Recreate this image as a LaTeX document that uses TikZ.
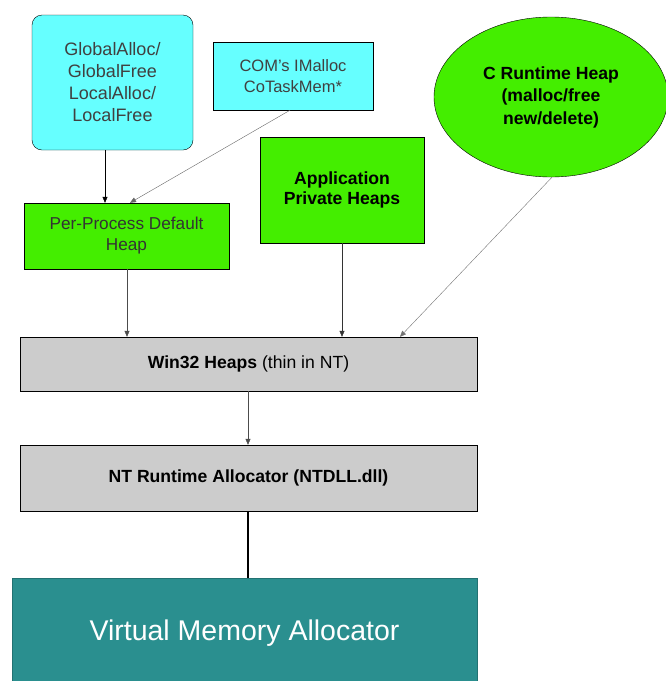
\documentclass[tikz,border=0pt]{standalone}
\usepackage{fontspec}
\setmainfont{Liberation Sans}
\usetikzlibrary{arrows.meta,shapes.geometric}
\definecolor{apicyan}{HTML}{66FFFF}
\definecolor{heapgreen}{HTML}{44EE00}
\definecolor{layergray}{HTML}{CCCCCC}
\definecolor{vmteal}{HTML}{2A8F8F}
\begin{document}
\begin{tikzpicture}[
        x = 1pt, y = -1pt,
        api/.style = {draw, fill=apicyan, text=black!75, align=center, inner sep=0pt},
        heap/.style = {draw, fill=heapgreen, align=center, inner sep=0pt},
        layer/.style = {draw, fill=layergray, align=center, inner sep=0pt, font=\fontsize{17.6}{20}\selectfont,
          minimum width=457pt},
        flow/.style = {draw, -{Triangle[width=5pt,length=6pt]}},
      ]
        \useasboundingbox (0,0) rectangle (665,681);
        \node[api, rounded corners=10pt, minimum width=161pt, minimum height=135pt,
          font=\fontsize{18}{22}\selectfont] (global) at (112.5,82.5)
          {GlobalAlloc/\\GlobalFree\\LocalAlloc/\\LocalFree};
        \node[api, minimum width=160pt, minimum height=68pt, font=\fontsize{16.5}{20.5}\selectfont] (com) at (293,76)
          {COM's IMalloc\\CoTaskMem*};
        \node[heap, text=black!80, minimum width=205pt, minimum height=66pt, font=\fontsize{17.2}{21}\selectfont] (default) at (126.5,236)
          {Per-Process Default\\Heap};
        \node[heap, minimum width=164pt, minimum height=106pt, font=\bfseries\fontsize{17.6}{20.5}\selectfont] (private) at (342,190)
          {Application\\Private Heaps};
        \node[heap, ellipse, minimum width=234pt, minimum height=160pt, font=\bfseries\fontsize{17.6}{22.5}\selectfont] (crt) at (551,97)
          {C Runtime Heap\\(malloc/free\\new/delete)};
        \node[layer, minimum height=54pt] (win32) at (248.5,364)
          {\textbf{Win32 Heaps} (thin in NT)};
        \node[layer, minimum height=66pt] (ntdll) at (248.5,478)
          {\textbf{NT Runtime Allocator (NTDLL.dll)}};
        \node[draw=vmteal!80!black, fill=vmteal, text=white, minimum width=465pt, minimum height=110pt,
          inner sep=0pt, font=\fontsize{28.5}{32}\selectfont] (vm) at (244.5,633)
          {Virtual Memory Allocator};

        \draw[flow] (global.south -| 105,0) -- (default.north -| 105,0);
        \draw[flow, black!60] (com.south -| 290,0) -- (default.north -| 130,0);
        \draw[flow, black!70] (default.south -| 127,0) -- (win32.north -| 127,0);
        \draw[flow, black!80] (private.south -| 342,0) -- (win32.north -| 342,0);
        \draw[flow, black!55] (crt.south -| 552,0) -- (win32.north -| 400,0);
        \draw[flow, black!70] (win32.south -| 248,0) -- (ntdll.north -| 248,0);
        \draw[line width=2.5pt] (ntdll.south -| 248,0) -- (vm.north -| 248,0);
      \end{tikzpicture}
\end{document}
